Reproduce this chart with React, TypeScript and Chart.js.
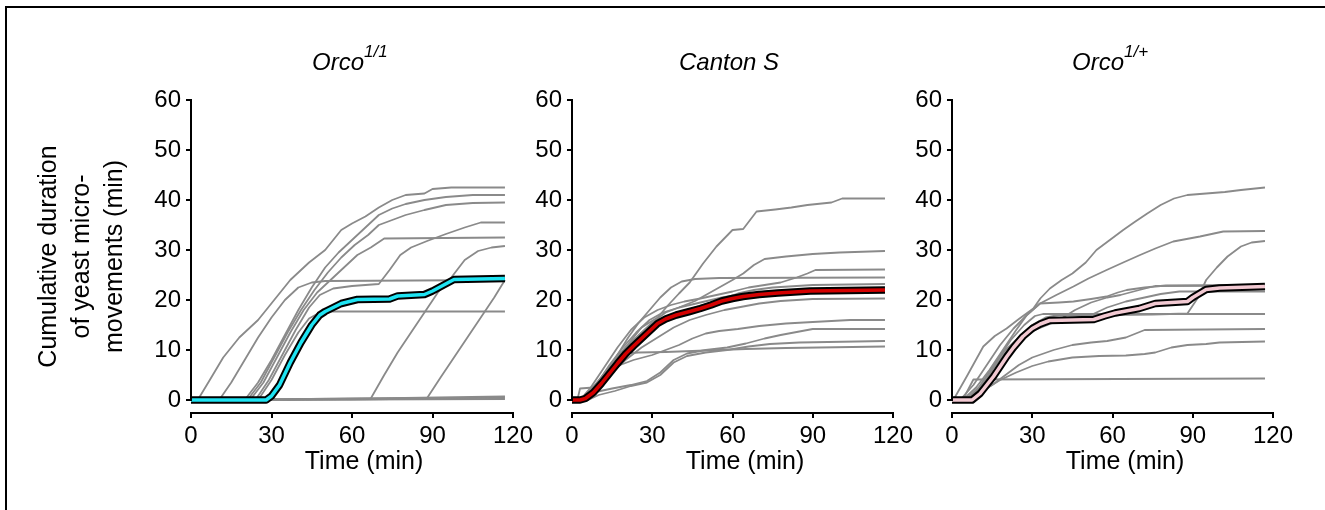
import React, { useEffect, useRef } from 'react';
import { Chart, registerables } from 'chart.js';

Chart.register(...registerables);

// ---------- axes ----------
const xTicks = [0, 30, 60, 90, 120];
const yTicks = [0, 10, 20, 30, 40, 50, 60];
const yTitleLines = ['Cumulative duration', 'of yeast micro-', 'movements (min)'];
const xTitle = 'Time (min)';

// ---------- panel 1 : Orco 1/1 ----------
const o11Mean = [[0,0],[28,0],[30,0.8],[33,3],[37,7.5],[41,11.5],[45,15],[48,17],[50,17.7],[53,18.5],[56,19.3],[62,20.1],[74,20.2],[77,20.8],[87,21.1],[90,21.8],[98,24.1],[117,24.3]];
const o11A = [[0,0],[2.5,0],[7,4],[12,8.5],[18,12.5],[25,16],[31,20],[37,24],[44,27.5],[50,30],[56,34],[60,35.3],[65,36.7],[70,38.5],[75,40],[80,41],[87,41.3],[90,42.2],[97,42.5],[117,42.5]];
const o11B = [[0,0],[10.5,0],[15,3.5],[20,8],[25,12.5],[30,16.5],[35,20],[40,22.5],[45,23.5],[50,23.8],[117,24]];
const o11C = [[0,0],[20,0],[25,3.5],[30,8],[35,13],[40,18],[45,22.5],[50,26.5],[55,29.5],[60,32],[65,34.5],[70,37],[75,38.3],[80,39.2],[87,40],[95,40.6],[105,41],[117,41]];
const o11D = [[0,0],[21,0],[26,3.5],[31,8.5],[36,13.5],[41,18],[46,22],[51,25.5],[56,28.5],[61,31],[66,33],[70,35],[75,36],[80,37],[87,38],[95,39],[105,39.4],[117,39.5]];
const o11E = [[0,0],[22,0],[27,3.5],[32,8.5],[37,13.5],[42,18],[47,21.5],[52,24],[57,26.5],[62,29],[67,30.5],[72,32.3],[117,32.5]];
const o11F = [[0,0],[24,0],[29,4],[34,9],[39,14],[44,18.5],[48,21],[53,22.3],[60,22.8],[70,23.2],[74,26],[78,29],[82,30.5],[88,31.8],[95,33.2],[102,34.5],[108,35.5],[117,35.5]];
const o11G = [[0,0],[67,0.3],[72,5],[77,9.5],[82,13.5],[87,17.5],[92,21.5],[97,24.5],[102,28],[107,29.8],[112,30.5],[117,30.8]];
const o11H = [[0,0],[88,0.4],[93,4.5],[98,8.5],[103,12.5],[108,16.5],[113,20.5],[117,24]];
const o11I = [[0,0],[25,0],[30,4],[35,9],[40,13.5],[44,16.3],[48,17.5],[52,17.7],[117,17.7]];
const o11Z1 = [[0,0],[117,0.2]];
const o11Z2 = [[0,0],[30,0],[117,0.7]];
const o11Z3 = [[0,0],[60,0.1],[117,0.5]];

// ---------- panel 2 : Canton S ----------
const csMean = [[0,0],[3,0],[5,0.3],[8,1.5],[11,3.3],[14,5.3],[17,7.3],[20,9.2],[23,10.8],[26,12.3],[29,13.8],[32,15.3],[35,16.2],[39,17],[44,17.7],[48,18.3],[52,19],[56,19.8],[60,20.3],[64,20.7],[70,21.1],[77,21.4],[89,21.8],[117,22]];
const cs1 = [[0,0],[3,0],[8,2.7],[14,6.5],[20,10.5],[26,14.5],[32,16.5],[36,19],[40,21.3],[44,23.5],[49,27.3],[54,30.7],[60,34],[64,34.2],[69,37.7],[76,38.1],[82,38.5],[88,39],[97,39.5],[101,40.3],[117,40.3]];
const cs2 = [[0,0],[4,0],[9,3],[14,7],[19,10.5],[24,13.5],[29,16],[34,17.5],[40,18.5],[46,19.8],[50,21],[55,22.5],[60,24],[64,25.3],[68,27],[72,28.2],[80,28.7],[90,29.2],[100,29.5],[117,29.8]];
const cs3 = [[0,0],[3,0],[7,2.5],[12,6.5],[17,10.5],[22,14],[27,16.5],[32,18],[37,19],[42,19.7],[48,20.3],[54,21],[60,21.7],[66,22.5],[72,23],[78,23.5],[84,24.5],[88,25.3],[91,26],[117,26.1]];
const cs4 = [[0,0],[5,0],[9,2],[13,5.5],[17,9],[21,12.5],[25,15.5],[29,18],[33,20.5],[37,22.5],[41,23.7],[46,24.2],[55,24.4],[117,24.5]];
const cs5 = [[0,0],[4,0],[9,3],[15,7.5],[20,10.5],[25,13],[30,15],[35,16.5],[40,17.5],[47,18.7],[55,20],[62,21.3],[68,22],[75,22.5],[90,23],[117,23.2]];
const cs6 = [[0,0],[3,0],[8,2],[14,5],[20,8],[26,10.5],[32,12.5],[38,14.5],[44,16],[50,17],[57,18],[64,18.7],[70,19.3],[78,19.8],[90,20.2],[117,20.3]];
const cs7 = [[0,0],[3,0],[8,2.5],[13,5],[18,7],[23,8],[30,9],[35,10],[40,11],[45,12.3],[50,13.3],[55,13.8],[62,14.2],[70,14.8],[80,15.3],[90,15.6],[104,16],[117,16]];
const cs8 = [[0,0],[5,0],[8,1.5],[15,2.3],[22,3],[28,3.8],[33,5.5],[38,8],[43,9.3],[50,10],[58,10.5],[65,11.3],[72,12.3],[78,13],[85,13.7],[90,14.2],[117,14.2]];
const cs9 = [[0,0],[6,0],[10,1],[16,1.8],[22,2.8],[28,3.5],[33,5],[38,7.5],[43,8.8],[50,9.5],[58,10],[66,10.7],[74,11.2],[85,11.5],[117,11.8]];
const cs10 = [[0,0],[4,0],[8,2],[12,4.5],[16,7.5],[19,9.3],[25,9.5],[35,9.6],[45,9.8],[55,10],[65,10.2],[80,10.4],[117,10.7]];
const cs11 = [[0,0],[2,0],[3,2.3],[8,2.5],[12,4.5],[16,7.5],[20,10],[25,13],[30,15.5],[35,17.5],[40,18.5],[48,19.5],[56,20.5],[64,21.2],[75,21.8],[90,22.1],[117,22.3]];

// ---------- panel 3 : Orco 1/+ ----------
const ophMean = [[0,0],[7.5,0],[10.5,1.3],[13,3],[15.5,4.7],[18,6.7],[20.5,8.7],[23,10.5],[26.5,12.7],[30,14.3],[33,15.2],[36.5,15.9],[45,16],[53,16.1],[57,16.8],[61,17.4],[66,17.9],[70,18.3],[76,19.3],[88,19.7],[90,20.5],[95,22.1],[100,22.4],[117,22.7]];
const oph1 = [[0,0],[0.5,0],[5.5,4.7],[11.7,10.7],[16,12.8],[20.4,14.3],[25,16.2],[30.4,18.3],[33,20.3],[36.6,22.3],[41,24],[45,25.3],[50,27.5],[54,30],[59,32],[64,34],[68,35.5],[73,37.3],[78,39],[83,40.3],[88,41],[95,41.3],[102,41.6],[108,42],[117,42.5]];
const oph2 = [[0,0],[3,0],[8,3],[13,7],[18,11],[23,14.3],[28,17],[32.9,19.3],[39,21],[45.4,22.7],[51,24.3],[57.8,26],[64,27.5],[70.3,29],[76,30.3],[82.7,31.7],[92.7,32.7],[101.4,33.7],[117,33.8]];
const oph3 = [[0,0],[5,0],[10,2],[15,6],[20,9.5],[25,12.5],[30,15],[35,16.5],[40,17],[60,17],[75,17.1],[88,17.3],[92,20.5],[95,24],[99,26.5],[103,28.7],[108,30.7],[112,31.5],[117,31.8]];
const oph4 = [[0,0],[4,0],[9,2.5],[14,6],[19,10],[24,14],[28,17],[32.9,19.3],[40,19.5],[45.4,19.7],[52,20.2],[57.8,20.7],[62,21.5],[65.3,22],[72,22.5],[80,22.9],[117,23]];
const oph5 = [[0,0],[6,0],[11,3],[16,6],[21,9],[26,12],[31,14],[38,15.5],[45,16.3],[52,17],[58,18.5],[65,19.7],[72,20.5],[78,21.2],[85,21.7],[117,21.7]];
const oph6 = [[0,0],[7,0],[12,3],[17,8],[22,12],[27,15],[31,16.8],[34,17.2],[117,17.2]];
const oph7 = [[0,0],[5,0],[10,1.5],[15,3],[20,5],[25,7],[30,8.5],[38,10],[45,11],[52,11.5],[58,11.8],[65,12.5],[72,14],[117,14.2]];
const oph8 = [[0,0],[8,0],[12,2],[18,4],[24,5.5],[30,6.8],[36,7.7],[45,8.5],[55,8.8],[65,8.9],[72,9.2],[76,9.5],[82,10.5],[88,11],[95,11.2],[100,11.5],[117,11.7]];
const oph9 = [[0,0],[4,0],[8,4.1],[117,4.3]];
const oph10 = [[0,0],[5,0],[10,2.5],[15,6.5],[20,10],[25,12.5],[30,14],[35,15],[40,16],[46,18],[52,19.5],[58,20.5],[63,21],[70,22],[76,22.8],[117,22.9]];

const FONT = '"Liberation Sans", Arial, Helvetica, sans-serif';
const GRAY = '#8a8a8a';

type Series = number[][];

const toXY = (s: Series) => s.map(([x, y]) => ({ x, y }));

const yAxisLine = {
  id: 'yAxisLine',
  afterDraw(chart: any) {
    const { ctx, chartArea, scales } = chart;
    const ys = scales.y;
    const x = Math.round(chartArea.left);
    ctx.save();
    ctx.strokeStyle = '#000';
    ctx.lineWidth = 2;
    ctx.beginPath();
    ctx.moveTo(x, ys.getPixelForValue(yTicks[yTicks.length - 1]) - 1);
    ctx.lineTo(x, ys.getPixelForValue(yTicks[0]) + 1);
    ctx.stroke();
    ctx.restore();
  },
};

interface PanelProps {
  left: number;
  axisW: number;
  grays: Series[];
  mean: Series;
  color: string;
  showYTitle: boolean;
}

function Panel({ left, axisW, grays, mean, color, showYTitle }: PanelProps) {
  const ref = useRef<HTMLCanvasElement | null>(null);
  useEffect(() => {
    if (!ref.current) return;
    const datasets: any[] = [
      { data: toXY(mean), borderColor: color, borderWidth: 3.5, order: 0, borderJoinStyle: 'round' },
      { data: toXY(mean), borderColor: '#000', borderWidth: 7.5, order: 1, borderJoinStyle: 'round' },
      ...grays.map((g) => ({ data: toXY(g), borderColor: GRAY, borderWidth: 1.8, order: 2, borderJoinStyle: 'round' })),
    ];
    const chart = new Chart(ref.current, {
      type: 'line',
      data: { datasets },
      options: {
        animation: false,
        responsive: false,
        maintainAspectRatio: false,
        layout: { padding: { left: 0, top: 100, right: 27, bottom: 0 } },
        elements: { point: { radius: 0 }, line: { tension: 0, fill: false } },
        plugins: { legend: { display: false }, tooltip: { enabled: false }, title: { display: false } },
        scales: {
          x: {
            type: 'linear',
            min: xTicks[0],
            max: xTicks[xTicks.length - 1],
            afterBuildTicks: (s: any) => { s.ticks = xTicks.map((v) => ({ value: v })); },
            afterFit: (s: any) => { s.height = 97; },
            border: { display: true, color: '#000', width: 2 },
            grid: { display: true, drawOnChartArea: false, drawTicks: true, tickLength: 5, color: '#000', lineWidth: 2 },
            ticks: { color: '#000', font: { size: 24, family: FONT }, padding: 4, maxRotation: 0, autoSkip: false },
          },
          y: {
            type: 'linear',
            min: -2.6,
            max: yTicks[yTicks.length - 1],
            afterBuildTicks: (s: any) => { s.ticks = yTicks.map((v) => ({ value: v })); },
            afterFit: (s: any) => { s.width = axisW; },
            border: { display: false },
            grid: { display: true, drawOnChartArea: false, drawTicks: true, tickLength: 5, color: '#000', lineWidth: 2 },
            ticks: { color: '#000', font: { size: 24, family: FONT }, padding: 5, autoSkip: false },
            title: {
              display: showYTitle,
              text: yTitleLines,
              color: '#000',
              font: { size: 25, family: FONT, lineHeight: 1.31 },
              padding: { top: 33, bottom: 0 },
            },
          },
        },
      } as any,
      plugins: [yAxisLine],
    });
    return () => chart.destroy();
  }, []);
  return (
    <canvas
      ref={ref}
      width={540}
      height={510}
      style={{ position: 'absolute', left, top: 0, width: 540, height: 510 }}
    />
  );
}

const panels = [
  { left: 0, axisW: 191, grays: [o11A, o11B, o11C, o11D, o11E, o11F, o11G, o11H, o11I, o11Z1, o11Z2, o11Z3], mean: o11Mean, color: '#1ee3f2', showYTitle: true, titleLeft: 312, title: 'Orco', sup: '1/1' },
  { left: 380, axisW: 192, grays: [cs1, cs2, cs3, cs4, cs5, cs6, cs7, cs8, cs9, cs10, cs11], mean: csMean, color: '#d40000', showYTitle: false, titleLeft: 679, title: 'Canton S', sup: '' },
  { left: 760, axisW: 192, grays: [oph1, oph2, oph3, oph4, oph5, oph6, oph7, oph8, oph9, oph10], mean: ophMean, color: '#f2c9d2', showYTitle: false, titleLeft: 1072, title: 'Orco', sup: '1/+' },
];

export default function App() {
  return (
    <div style={{ position: 'absolute', left: 0, top: 0, width: 1325, height: 510, overflow: 'hidden', background: '#fff', fontFamily: FONT }}>
      <div style={{ position: 'absolute', left: 5, top: 6, width: 1340, height: 520, borderTop: '2px solid #000', borderLeft: '2px solid #000' }} />
      {panels.map((p, i) => (
        <Panel key={i} left={p.left} axisW={p.axisW} grays={p.grays} mean={p.mean} color={p.color} showYTitle={p.showYTitle} />
      ))}
      {panels.map((p, i) => (
        <div key={'t' + i} style={{ position: 'absolute', left: p.titleLeft, top: 50, fontSize: 24, lineHeight: '24px', fontStyle: 'italic', whiteSpace: 'nowrap', color: '#000' }}>
          {p.title}
          {p.sup ? <span style={{ fontSize: 17, position: 'relative', top: -13 }}>{p.sup}</span> : null}
        </div>
      ))}
      {panels.map((p, i) => (
        <div key={'x' + i} style={{ position: 'absolute', left: p.left + p.axisW + 160 + 13, top: 448, transform: 'translateX(-50%)', fontSize: 25, lineHeight: '25px', whiteSpace: 'nowrap', color: '#000' }}>
          {xTitle}
        </div>
      ))}
    </div>
  );
}
